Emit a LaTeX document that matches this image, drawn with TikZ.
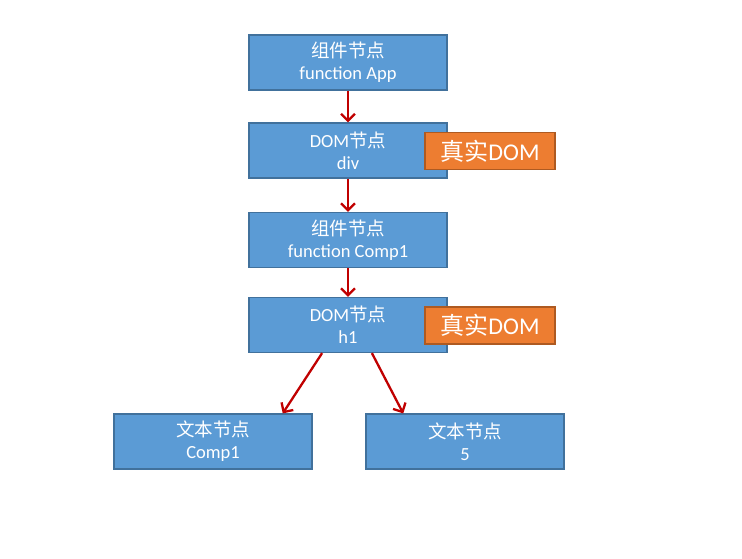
\documentclass[tikz,border=0pt]{standalone}
\usepackage{fontspec}
\setmainfont{Carlito}
\newfontfamily\cjk{Noto Sans CJK SC}
\usepackage{tikz}
\usetikzlibrary{arrows.meta,calc,positioning}
\newcommand{\zh}[1]{{\cjk #1}}
\definecolor{boxblue}{HTML}{5B9BD5}
\definecolor{boxedge}{HTML}{41719C}
\definecolor{tagorange}{HTML}{ED7D31}
\definecolor{tagedge}{HTML}{AE5A21}
\definecolor{linkred}{HTML}{C00000}

\begin{document}
\begin{tikzpicture}[x=1pt,y=-1pt,
    vnode/.style={draw=boxedge,line width=1.2pt,fill=boxblue,text=white,
        minimum width=198pt,minimum height=55pt,inner sep=0pt,align=center,
        font=\fontsize{18.5}{22}\selectfont},
    realtag/.style={draw=tagedge,line width=1.2pt,fill=tagorange,text=white,
        minimum width=130pt,minimum height=37pt,inner sep=0pt,
        font=\fontsize{24}{28}\selectfont},
    link/.style={draw=linkred,line width=2.3pt,-{Straight Barb[length=7pt,width=14pt,line width=2.3pt]}}]
    \useasboundingbox (0,0) rectangle (742,558);

    \pgfmathsetmacro{\cx}{348};

    \node[vnode] (app) at (\cx,62.5) {\zh{组件节点}\\function App};
    \node[vnode] (div) at (\cx,150.5) {DOM\zh{节点}\\div};
    \node[vnode] (comp) at (\cx,240) {\zh{组件节点}\\function Comp1};
    \node[vnode] (h1) at (\cx,325) {DOM\zh{节点}\\h1};
    \node[vnode] (txtA) at (213,441.5) {\zh{文本节点}\\Comp1};
    \node[vnode] (txtB) at (465,441.5) {\zh{文本节点}\\5};

    % real DOM tags, drawn over the boxes
    \node[realtag] (realdiv) at (490,151) {\zh{真实}DOM};
    \node[realtag] (realh) at (490,325.5) {\zh{真实}DOM};

    \draw[link] (app) -- (div);
    \draw[link] (div) -- (comp);
    \draw[link] (comp) -- (h1);

    \coordinate (hL) at ($(h1.south west)!0.37!(h1.south east)$);
    \coordinate (hR) at ($(h1.south west)!0.62!(h1.south east)$);
    \draw[link] (hL) -- ($(txtA.north west)!0.85!(txtA.north east)$);
    \draw[link] (hR) -- ($(txtB.north west)!0.19!(txtB.north east)$);

\end{tikzpicture}
\end{document}
